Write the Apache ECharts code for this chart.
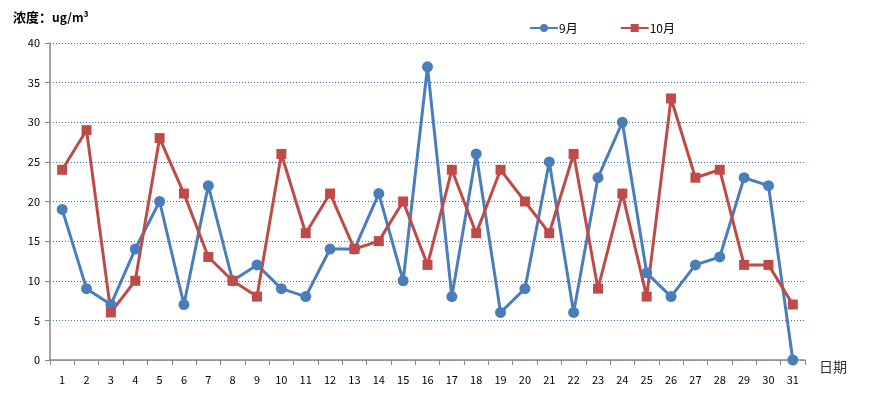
<!DOCTYPE html>
<html>
<head>
<meta charset="utf-8">
<script src="https://cdn.jsdelivr.net/npm/echarts@6/dist/echarts.min.js"></script>
<style>
  html, body { margin: 0; padding: 0; background: #fff; }
  #chart { width: 869px; height: 397px; }
</style>
</head>
<body>
<div id="chart"></div>
<script>
// days of the month
const days = ['1','2','3','4','5','6','7','8','9','10','11','12','13','14','15','16',
  '17','18','19','20','21','22','23','24','25','26','27','28','29','30','31']
// concentration, ug/m3
const sep = [19, 9, 7, 14, 20, 7, 22, 10, 12, 9, 8, 14, 14, 21, 10, 37,
  8, 26, 6, 9, 25, 6, 23, 30, 11, 8, 12, 13, 23, 22, 0]
const oct = [24, 29, 6, 10, 28, 21, 13, 10, 8, 26, 16, 21, 14, 15, 20, 12,
  24, 16, 24, 20, 16, 26, 9, 21, 8, 33, 23, 24, 12, 12, 7]

const font = '"Noto Sans CJK SC", "DejaVu Sans", sans-serif'
const chart = echarts.init(document.getElementById('chart'))

chart.setOption({
  backgroundColor: '#fff',
  animation: false,
  textStyle: { fontFamily: font },
  title: {
    text: '{a|浓度：}{b|ug/m³}',
    left: 8,
    top: 6,
    textStyle: {
      rich: {
        a: { fontSize: 13, color: '#000', fontFamily: font },
        b: { fontSize: 12, color: '#000', fontWeight: 'bold', fontFamily: font }
      }
    }
  },
  legend: {
    top: 17,
    left: 524,
    itemGap: 42,
    itemWidth: 28,
    itemHeight: 10,
    textStyle: { fontSize: 12, color: '#000', padding: [0, 0, 0, -4] },
    data: ['9月', '10月']
  },
  grid: { left: 50, right: 64, top: 43, bottom: 37 },
  xAxis: {
    type: 'category',
    data: days,
    boundaryGap: true,
    name: '日期',
    nameLocation: 'end',
    nameGap: 14,
    nameTextStyle: { fontSize: 14, color: '#333', verticalAlign: 'top' },
    axisLine: { lineStyle: { color: '#868686', width: 1.5 } },
    axisTick: { show: true, alignWithLabel: false, length: 5, lineStyle: { color: '#868686' } },
    axisLabel: { color: '#000', fontSize: 11, margin: 14, interval: 0 }
  },
  yAxis: {
    type: 'value',
    min: 0,
    max: 40,
    interval: 5,
    axisLine: { show: true, lineStyle: { color: '#868686', width: 1.5 } },
    axisTick: { show: true, length: 5, lineStyle: { color: '#868686' } },
    axisLabel: { color: '#000', fontSize: 11, margin: 10 },
    splitLine: { lineStyle: { color: '#3a6fb0', type: [1, 2], width: 1 } }
  },
  series: [
    {
      name: '9月',
      type: 'line',
      data: sep,
      symbol: 'circle',
      symbolSize: 11,
      color: '#4a7ebb',
      lineStyle: { width: 3, color: '#4a7ebb' },
      itemStyle: { color: '#4a7ebb' }
    },
    {
      name: '10月',
      type: 'line',
      data: oct,
      symbol: 'rect',
      symbolSize: 10,
      color: '#be4b48',
      lineStyle: { width: 3, color: '#be4b48' },
      itemStyle: { color: '#be4b48' }
    }
  ]
})
</script>
</body>
</html>
